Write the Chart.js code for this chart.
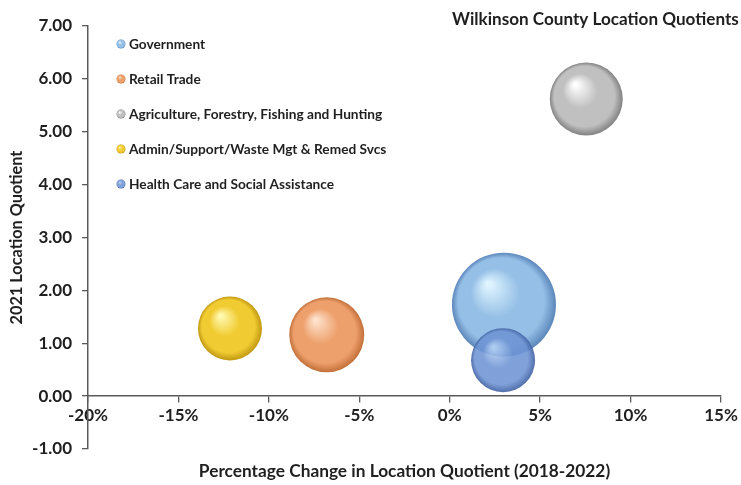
<!DOCTYPE html>
<html>
<head>
<meta charset="utf-8">
<script src="https://cdn.jsdelivr.net/npm/chart.js@4.4.1/dist/chart.umd.min.js"></script>
<style>
  html, body { margin: 0; padding: 0; background: #fff; }
  #wrap { width: 741px; height: 485px; }
</style>
</head>
<body>
<div id="wrap"><canvas id="lqChart" width="741" height="485"></canvas></div>
<script>
// Wilkinson County location quotient bubbles
const industries = [
    'Government',
    'Retail Trade',
    'Agriculture, Forestry, Fishing and Hunting',
    'Admin/Support/Waste Mgt & Remed Svcs',
    'Health Care and Social Assistance'
];
const pctChange = [3.0, -6.8, 7.55, -12.15, 2.95];   // % change in LQ 2018-2022
const lq2021 = [1.73, 1.16, 5.62, 1.28, 0.68];       // 2021 location quotient
const bubbleSize = [52, 37.5, 36.5, 32, 32];          // bubble radius
const xTicks = [-20, -15, -10, -5, 0, 5, 10, 15];
const yTicks = [-1, 0, 1, 2, 3, 4, 5, 6, 7];

// highlight / body / edge colours for the shaded spheres
const sphereColors = [
    ['rgba(220,243,255,0.92)', 'rgba(140,186,228,0.92)', 'rgba(82,128,182,0.95)'],
    ['#fde2cc', '#eea06c', '#c2703a'],
    ['#ffffff', '#c0c0c0', '#828282'],
    ['#fffab0', '#f1cb32', '#c09812'],
    ['rgba(180,208,244,0.88)', 'rgba(110,148,212,0.88)', 'rgba(66,98,164,0.92)']
];

const FONT = 'Lato, "Open Sans", sans-serif';
const TEXT = '#1f1f1f';
const AXIS = '#5a5a5a';

function sphereFill(g, x, y, r, cols) {
    const grad = g.createRadialGradient(x - r * 0.3, y - r * 0.4, r * 0.04, x, y, r);
    grad.addColorStop(0, cols[0]);
    grad.addColorStop(0.45, cols[1]);
    grad.addColorStop(0.82, cols[1]);
    grad.addColorStop(1, cols[2]);
    return grad;
}

function bubbleBg(i) {
    return (context) => {
        const chart = context.chart;
        const raw = context.raw;
        if (!chart.chartArea || !raw) return sphereColors[i][1];
        const x = chart.scales.x.getPixelForValue(raw.x);
        const y = chart.scales.y.getPixelForValue(raw.y);
        return sphereFill(chart.ctx, x, y, raw.r, sphereColors[i]);
    };
}

const datasets = industries.map((name, i) => ({
    label: name,
    data: [{ x: pctChange[i], y: lq2021[i], r: bubbleSize[i] }],
    backgroundColor: bubbleBg(i),
    borderWidth: 0,
    hoverBorderWidth: 0,
    // Health Care sits on top of Government
    order: i === 4 ? 0 : 1
}));

// title, x-axis title and legend drawn inside the plot like the original
const overlayPlugin = {
    id: 'overlay',
    afterDraw(chart) {
        const g = chart.ctx;
        const area = chart.chartArea;
        g.save();
        g.fillStyle = TEXT;
        g.textBaseline = 'middle';

        // title runs right up to the canvas edge
        const title = 'Wilkinson County Location Quotients';
        g.font = 'bold 18px ' + FONT;
        const size = Math.min(18, 18 * 287 / g.measureText(title).width);
        g.font = 'bold ' + size.toFixed(2) + 'px ' + FONT;
        g.textAlign = 'left';
        g.fillText(title, 452, 19);

        g.font = 'bold 17.3px ' + FONT;
        g.textAlign = 'center';
        g.fillText('Percentage Change in Location Quotient (2018-2022)', (area.left + area.right) / 2, 471);

        g.font = 'bold 13.7px ' + FONT;
        g.textAlign = 'left';
        industries.forEach((name, i) => {
            const cy = 44 + i * 35;
            g.beginPath();
            g.arc(121, cy, 4.5, 0, Math.PI * 2);
            g.fillStyle = sphereFill(g, 121, cy, 4.5, sphereColors[i]);
            g.fill();
            g.fillStyle = TEXT;
            g.fillText(name, 129, cy + 0.5);
        });
        g.restore();
    }
};

new Chart(document.getElementById('lqChart'), {
    type: 'bubble',
    data: { datasets: datasets },
    options: {
        responsive: false,
        animation: false,
        events: [],
        layout: { autoPadding: false, padding: { left: 0, right: 20, top: 26, bottom: 36 } },
        plugins: {
            legend: { display: false },
            tooltip: { enabled: false }
        },
        scales: {
            x: {
                type: 'linear',
                position: { y: 0 },
                min: -20,
                max: 15,
                afterBuildTicks: (scale) => { scale.ticks = xTicks.map(v => ({ value: v })); },
                grid: { drawOnChartArea: false, tickLength: 6, color: AXIS, lineWidth: 1.3 },
                border: { color: AXIS, width: 1.5 },
                ticks: {
                    color: TEXT,
                    padding: 3,
                    font: { family: FONT, size: 17, weight: 'bold' },
                    callback: (v) => v + '%'
                }
            },
            y: {
                type: 'linear',
                min: -1,
                max: 7,
                afterBuildTicks: (scale) => { scale.ticks = yTicks.map(v => ({ value: v })); },
                afterFit: (scale) => { scale.width = 88; },
                grid: { drawOnChartArea: false, tickLength: 6, color: AXIS, lineWidth: 1.3 },
                border: { color: AXIS, width: 1.5 },
                ticks: {
                    color: TEXT,
                    padding: 10,
                    font: { family: FONT, size: 17, weight: 'bold' },
                    callback: (v) => Number(v).toFixed(2)
                },
                title: {
                    display: true,
                    text: '2021 Location Quotient',
                    color: TEXT,
                    padding: { top: 7, bottom: 0 },
                    font: { family: FONT, size: 16.3, weight: 'bold' }
                }
            }
        }
    },
    plugins: [overlayPlugin]
});
</script>
</body>
</html>
